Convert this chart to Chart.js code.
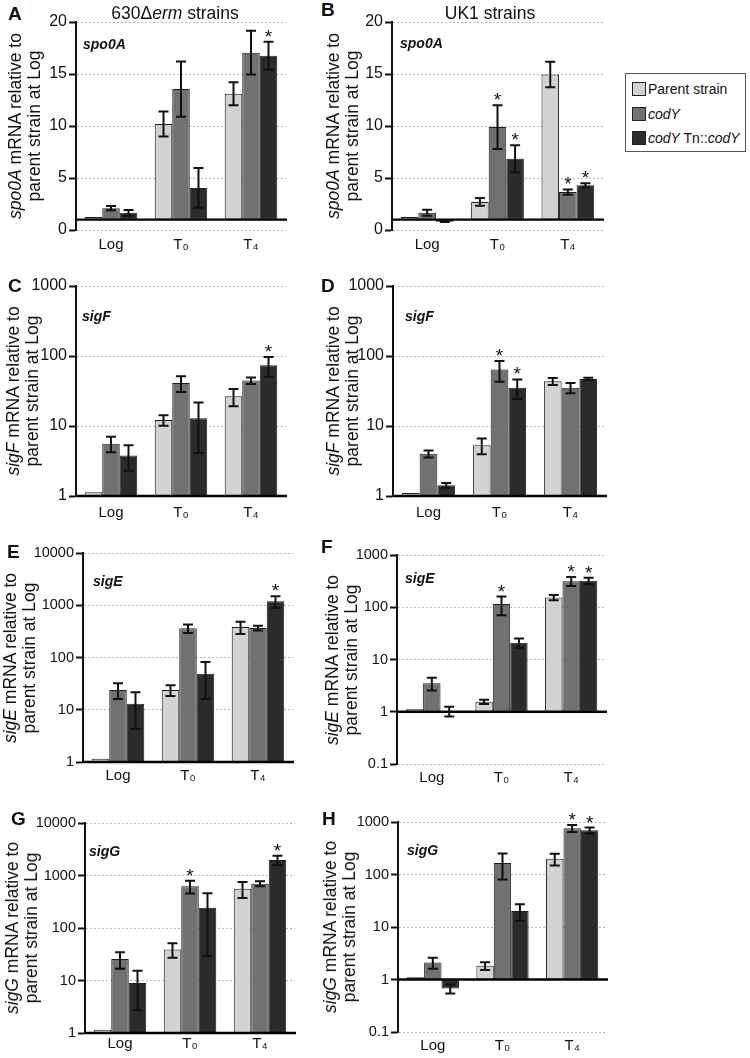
<!DOCTYPE html>
<html><head><meta charset="utf-8">
<script src="https://cdn.jsdelivr.net/npm/chart.js@4.4.1/dist/chart.umd.min.js"></script>
<style>
body{margin:0;background:#fff;}
#fig{position:relative;width:750px;height:1058px;overflow:hidden;font-family:'Liberation Sans',Arial,Helvetica,sans-serif;color:#111;}
#fig canvas{position:absolute;}
.t{position:absolute;white-space:nowrap;}
.letter{font-weight:bold;font-size:19px;line-height:19px;}
.ytitle{font-size:17.5px;line-height:19px;text-align:center;transform:translate(-50%,-50%) rotate(-90deg);}
.head{font-size:17.5px;line-height:20px;transform:translate(-50%,-50%);}
#legend{position:absolute;left:625px;top:73px;width:119px;height:77px;border:1px solid #555;background:#fff;font-size:14px;}
#legend .row{position:absolute;left:6px;height:16px;line-height:16px;white-space:nowrap;}
#legend .sw{display:inline-block;width:12px;height:12px;border:1px solid #222;vertical-align:-2px;margin-right:2px;}
</style></head><body><div id="fig"></div>
<script>
// ---------- data ----------
const categories = ['Log', 'T\u2080', 'T\u2084'];
const seriesNames = ['Parent strain', 'codY', 'codY Tn::codY'];
const seriesColors = ['#d2d2d2', '#717171', '#2b2b2b'];

const linTicks = [0, 5, 10, 15, 20];
const logTicks3 = [1, 10, 100, 1000];
const logTicks4 = [1, 10, 100, 1000, 10000];
const logTicksSub = [0.1, 1, 10, 100, 1000];

// A: spo0A, 630Δerm
const A_parent = [1.25, 10.2, 13.1];   const A_parentSD = [0, 1.2, 1.1];
const A_codY = [2.1, 13.55, 17.05];    const A_codYSD = [0.2, 2.65, 2.1];
const A_comp = [1.65, 4.05, 16.75];    const A_compSD = [0.28, 1.9, 1.35];
const A_stars = [[2, 2]];
// B: spo0A, UK1
const B_parent = [1.25, 2.7, 14.95];   const B_parentSD = [0, 0.37, 1.23];
const B_codY = [1.65, 9.9, 3.65];      const B_codYSD = [0.29, 2.1, 0.25];
const B_comp = [0.8, 6.85, 4.3];       const B_compSD = [0.03, 1.3, 0.2];
const B_stars = [[1, 1], [2, 1], [1, 2], [2, 2]];
// C: sigF, 630Δerm
const C_parent = [1.13, 12.2, 26.5];   const C_parentSD = [0, 2.1, 7.3];
const C_codY = [5.6, 41, 44.5];        const C_codYSD = [1.4, 10.3, 4.8];
const C_comp = [3.8, 12.9, 73.5];      const C_compSD = [1.5, 8.8, 23];
const C_stars = [[2, 2]];
// D: sigF, UK1
const D_parent = [1.1, 5.3, 43.5];     const D_parentSD = [0, 1.35, 5];
const D_codY = [4.0, 64, 35.3];        const D_codYSD = [0.45, 21, 6];
const D_comp = [1.42, 35.3, 47];       const D_compSD = [0.11, 11, 2];
const D_stars = [[1, 1], [2, 1]];
// E: sigE, 630Δerm
const E_parent = [1.15, 24, 383];      const E_parentSD = [0, 5.6, 100];
const E_codY = [24, 361, 367];         const E_codYSD = [8, 65, 38];
const E_comp = [13, 49, 1190];         const E_compSD = [8.7, 33, 300];
const E_stars = [[2, 2]];
// F: sigE, UK1
const F_parent = [1.12, 1.55, 154];    const F_parentSD = [0, 0.15, 18];
const F_codY = [3.5, 115, 316];        const F_codYSD = [0.95, 45, 62];
const F_comp = [1.03, 21, 320];        const F_compSD = [0.22, 4.2, 45];
const F_stars = [[1, 1], [1, 2], [2, 2]];
// G: sigG, 630Δerm
const G_parent = [1.15, 39, 561];      const G_parentSD = [0, 12, 190];
const G_codY = [25.7, 622, 699];       const G_codYSD = [9, 170, 75];
const G_comp = [9, 244, 1973];         const G_compSD = [6.3, 215, 400];
const G_stars = [[1, 1], [2, 2]];
// H: sigG, UK1
const H_parent = [1.1, 1.82, 199];     const H_parentSD = [0, 0.3, 50];
const H_codY = [2.11, 165, 757];       const H_codYSD = [0.5, 85, 115];
const H_comp = [0.673, 20.2, 693];     const H_compSD = [0.13, 7, 90];
const H_stars = [[1, 2], [2, 2]];

// ---------- layout ----------
const panels = [
 {id:'A', gene:'spo0A', vals:[A_parent,A_codY,A_comp], sds:[A_parentSD,A_codYSD,A_compSD], stars:A_stars, log:false, min:0, max:20, ticks:linTicks, L:76, R:286, T:22, B:230, tf:16, xo:14, gx:7, gy:23, tx:25, lx:8, ly:6},
 {id:'B', gene:'spo0A', vals:[B_parent,B_codY,B_comp], sds:[B_parentSD,B_codYSD,B_compSD], stars:B_stars, log:false, min:0, max:20, ticks:linTicks, L:392, R:603, T:22, B:230, tf:16, xo:14, gx:8, gy:22, tx:343, lx:321, ly:2},
 {id:'C', gene:'sigF', vals:[C_parent,C_codY,C_comp], sds:[C_parentSD,C_codYSD,C_compSD], stars:C_stars, log:true, min:1, max:1000, ticks:logTicks3, L:76, R:286, T:286, B:496, tf:16, xo:16, gx:6, gy:31, tx:23, lx:8, ly:278},
 {id:'D', gene:'sigF', vals:[D_parent,D_codY,D_comp], sds:[D_parentSD,D_codYSD,D_compSD], stars:D_stars, log:true, min:1, max:1000, ticks:logTicks3, L:393, R:606, T:286, B:496, tf:16, xo:16, gx:12, gy:31, tx:343, lx:321, ly:278},
 {id:'E', gene:'sigE', vals:[E_parent,E_codY,E_comp], sds:[E_parentSD,E_codYSD,E_compSD], stars:E_stars, log:true, min:1, max:10000, ticks:logTicks4, L:83, R:293, T:553, B:762, tf:14.5, xo:13, gx:10, gy:29, tx:20, lx:7, ly:544},
 {id:'F', gene:'sigE', vals:[F_parent,F_codY,F_comp], sds:[F_parentSD,F_codYSD,F_compSD], stars:F_stars, log:true, min:0.1, max:1000, ticks:logTicksSub, L:397, R:606, T:555, B:764, tf:14.5, xo:13, gx:8, gy:24, tx:342, lx:321, ly:539},
 {id:'G', gene:'sigG', vals:[G_parent,G_codY,G_comp], sds:[G_parentSD,G_codYSD,G_compSD], stars:G_stars, log:true, min:1, max:10000, ticks:logTicks4, L:85, R:295, T:823, B:1033, tf:14.5, xo:10, gx:4, gy:29, tx:22, lx:11, ly:811},
 {id:'H', gene:'sigG', vals:[H_parent,H_codY,H_comp], sds:[H_parentSD,H_codYSD,H_compSD], stars:H_stars, log:true, min:0.1, max:1000, ticks:logTicksSub, L:398, R:607, T:822, B:1032, tf:14.5, xo:13, gx:9, gy:29, tx:340, lx:322, ly:811}
];

const PADL = 52, PADT = 12, PADR = 6, XH = 30;
const FONT = "'Liberation Sans', Arial, Helvetica, sans-serif";
Chart.defaults.font.family = FONT;
Chart.defaults.color = '#111';

const marks = {
  id: 'marks',
  afterDatasetsDraw(chart) {
    const {ctx, chartArea: a, scales: {y}} = chart;
    const p = chart.options.plugins.marks.panel;
    ctx.save();
    // baseline at 1
    const yb = y.getPixelForValue(1);
    ctx.strokeStyle = '#000'; ctx.lineWidth = 2.4;
    ctx.beginPath(); ctx.moveTo(a.left, yb); ctx.lineTo(a.right + 1, yb); ctx.stroke();
    // error bars
    const tops = [];
    chart.data.datasets.forEach((ds, di) => {
      const meta = chart.getDatasetMeta(di);
      tops[di] = [];
      ds.mean.forEach((v, i) => {
        const sd = ds.sd[i];
        const bx = meta.data[i].x;
        const yv = y.getPixelForValue(v);
        if (!sd) { tops[di][i] = Math.min(yv, yb); return; }
        const lo = Math.max(v - sd, y.min);
        const y1 = y.getPixelForValue(v + sd), y2 = y.getPixelForValue(lo);
        ctx.strokeStyle = '#111'; ctx.lineWidth = 2;
        ctx.beginPath();
        ctx.moveTo(bx, y1); ctx.lineTo(bx, y2);
        ctx.moveTo(bx - 5, y1); ctx.lineTo(bx + 5, y1);
        ctx.moveTo(bx - 5, y2); ctx.lineTo(bx + 5, y2);
        ctx.stroke();
        tops[di][i] = Math.min(y1, yb);
      });
    });
    // significance asterisks
    ctx.fillStyle = '#111';
    ctx.font = '19px ' + FONT;
    ctx.textAlign = 'center'; ctx.textBaseline = 'alphabetic';
    p.stars.forEach(([s, c]) => {
      const bx = chart.getDatasetMeta(s).data[c].x;
      ctx.fillText('*', bx, tops[s][c] + 1);
    });
    // gene label
    ctx.font = 'italic bold 14px ' + FONT;
    ctx.textAlign = 'left'; ctx.textBaseline = 'middle';
    ctx.fillText(p.gene, a.left + p.gx, a.top + p.gy);
    ctx.restore();
  }
};

const fig = document.getElementById('fig');
panels.forEach(p => {
  const cv = document.createElement('canvas');
  const cx = p.L - PADL, cy = p.T - PADT;
  const w = p.R - cx + PADR, h = p.B - cy + XH;
  cv.width = w; cv.height = h;
  cv.style.left = cx + 'px'; cv.style.top = cy + 'px';
  cv.style.width = w + 'px'; cv.style.height = h + 'px';
  fig.appendChild(cv);
  new Chart(cv.getContext('2d'), {
    type: 'bar',
    data: {
      labels: categories,
      datasets: p.vals.map((vals, k) => ({
        label: seriesNames[k],
        data: vals.map(v => [1, v]),
        mean: vals,
        sd: p.sds[k],
        backgroundColor: seriesColors[k],
        borderColor: '#1e1e1e',
        borderWidth: 1,
        borderSkipped: false,
        categoryPercentage: 0.75,
        barPercentage: 1.0
      }))
    },
    options: {
      responsive: false, animation: false, devicePixelRatio: 1,
      layout: {padding: {top: PADT, right: PADR, left: 0, bottom: 0}},
      plugins: {legend: {display: false}, tooltip: {enabled: false}, marks: {panel: p}},
      scales: {
        x: {
          type: 'category', offset: true,
          grid: {display: false, drawTicks: false}, border: {display: false},
          ticks: {color: '#111', font: {size: 15}, padding: p.xo - 8, maxRotation: 0, autoSkip: false},
          afterFit(s) { s.height = XH; }
        },
        y: {
          type: p.log ? 'logarithmic' : 'linear',
          min: p.min, max: p.max,
          afterBuildTicks(s) { s.ticks = p.ticks.map(v => ({value: v})); },
          ticks: {callback: v => String(v), color: '#111', font: {size: p.tf}, padding: 2, autoSkip: false},
          grid: {color: '#b8b8b8', lineWidth: 1, tickColor: '#111', tickLength: 7, tickWidth: 2},
          border: {display: true, color: '#111', width: 2, dash: [2, 2]},
          afterFit(s) { s.width = PADL; }
        }
      }
    },
    plugins: [marks]
  });
  // panel letter
  const L = document.createElement('div');
  L.className = 't letter'; L.textContent = p.id;
  L.style.left = p.lx + 'px'; L.style.top = (p.ly - 2) + 'px';
  fig.appendChild(L);
  // y-axis title
  const Y = document.createElement('div');
  Y.className = 't ytitle';
  Y.innerHTML = '<i>' + p.gene + '</i> mRNA relative to<br>parent strain at Log';
  Y.style.left = p.tx + 'px'; Y.style.top = ((p.T + p.B) / 2) + 'px';
  fig.appendChild(Y);
});

// column headings
const h1 = document.createElement('div');
h1.className = 't head'; h1.innerHTML = '630\u0394<i>erm</i> strains';
h1.style.left = '175px'; h1.style.top = '13px'; fig.appendChild(h1);
const h2 = document.createElement('div');
h2.className = 't head'; h2.textContent = 'UK1 strains';
h2.style.left = '490px'; h2.style.top = '13px'; fig.appendChild(h2);

// legend
const lg = document.createElement('div'); lg.id = 'legend';
const legendHTML = ['Parent strain', '<i>codY</i>', '<i>codY</i> Tn::<i>codY</i>'];
[7, 32, 56].forEach((top, k) => {
  const r = document.createElement('div'); r.className = 'row'; r.style.top = top + 'px';
  r.innerHTML = '<span class="sw" style="background:' + seriesColors[k] + '"></span>' + legendHTML[k];
  lg.appendChild(r);
});
fig.appendChild(lg);
</script></body></html>
